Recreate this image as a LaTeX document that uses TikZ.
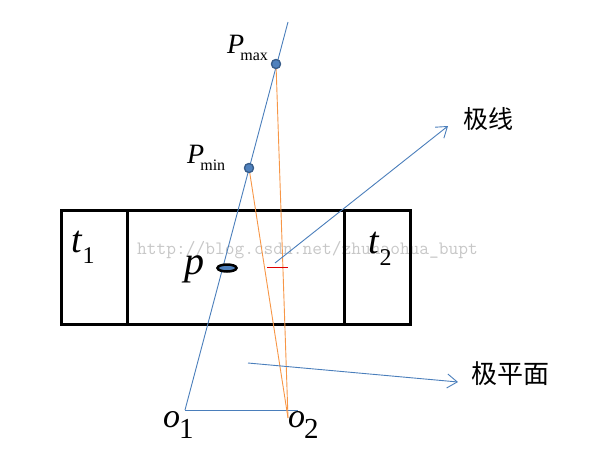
\documentclass[tikz,border=0pt]{standalone}
\usepackage{fontspec}
\setmainfont{Liberation Serif}
\newfontfamily\cjk{Noto Sans CJK SC}
\usetikzlibrary{arrows.meta,shapes.geometric}
\definecolor{lblue}{HTML}{4A7EBB}
\definecolor{dotfill}{HTML}{4F81BD}
\definecolor{dotedge}{HTML}{385D8A}
\definecolor{lorange}{HTML}{F79646}
\definecolor{lred}{HTML}{E00000}
\tikzset{
  blueline/.style={draw=lblue,line width=0.9pt},
  orangeline/.style={draw=lorange,line width=0.9pt},
  barb/.style={-{Straight Barb[length=10pt,width=14pt]}},
  ptdot/.style={circle,fill=dotfill,draw=dotedge,line width=1.2pt,minimum size=9pt,inner sep=0pt},
  lbl/.style={inner sep=0pt,anchor=base west},
  frame/.style={draw=black,line width=3pt},
}
\begin{document}
\begin{tikzpicture}[x=1pt,y=-1pt]
\useasboundingbox (0,0) rectangle (602,474);
% watermark
\node[lbl,text=black!22] (wm) at (137,254) {\ttfamily\fontsize{18.9}{18.9}\selectfont http://blog.csdn.net/zhuhaohua\_bupt};
% box
\draw[frame] (61.5,210.5) rectangle (410.5,324);
\draw[frame] (127.5,210.5) -- (127.5,324);
\draw[frame] (344.5,210.5) -- (344.5,324);
% points
\coordinate (o1) at (185,410);
\coordinate (top) at (288,22);
\coordinate (bend) at (298,410);
\coordinate (o2) at (288,418);
\node[ptdot] (pmax) at (276,64) {};
\node[ptdot] (pmin) at (249,168) {};
% lines
\draw[blueline] (o1) -- (top);
\draw[blueline] (o1) -- (bend);
\draw[orangeline] (pmax) -- (o2);
\draw[orangeline] (pmin) -- (o2);
\node[ptdot] at (pmax) {};
\node[ptdot] at (pmin) {};
% red tick
\coordinate (ra) at (267,267);
\coordinate (rb) at (288,267);
\draw[draw=lred,line width=1pt] (ra) -- (rb);
% arrows
\coordinate (jxs) at (275,263);
\coordinate (jxt) at (448,126);
\draw[blueline,barb] (jxs) -- (jxt);
\coordinate (jps) at (248,363);
\coordinate (jpt) at (458,382);
\draw[blueline,barb] (jps) -- (jpt);
\node[inner sep=0pt] (jx) at (488,119) {\cjk\fontsize{25}{25}\selectfont 极线};
\node[inner sep=0pt] (jp) at (510,374) {\cjk\fontsize{26}{26}\selectfont 极平面};
% p ellipse
\node[ellipse,draw=black,line width=2.5pt,fill=dotfill,minimum width=19pt,minimum height=7pt,inner sep=0pt] (pe) at (227,268) {};
% labels
\node[lbl] (lpmax) at (227,53) {\fontsize{28}{28}\selectfont\textit{P}\kern-4pt\raisebox{-7pt}{\fontsize{16}{16}\selectfont max}};
\node[lbl] (lpmin) at (187,163) {\fontsize{28}{28}\selectfont\textit{P}\kern-4pt\raisebox{-7pt}{\fontsize{16}{16}\selectfont min}};
\node[lbl] (lp) at (184,274.5) {\fontsize{40}{40}\selectfont\textit{p}};
\node[lbl] (lt1) at (71,252) {\fontsize{38}{38}\selectfont\textit{t}\raisebox{-11pt}{\fontsize{24}{24}\selectfont 1}};
\node[lbl] (lt2) at (368,253) {\fontsize{38}{38}\selectfont\textit{t}\raisebox{-12pt}{\fontsize{24}{24}\selectfont 2}};
\node[lbl] (lo1) at (163,427) {\fontsize{34}{34}\selectfont\textit{o}\kern-1pt\raisebox{-11pt}{\fontsize{29}{29}\selectfont 1}};
\node[lbl] (lo2) at (288,427) {\fontsize{34}{34}\selectfont\textit{o}\kern-1pt\raisebox{-11pt}{\fontsize{29}{29}\selectfont 2}};
\end{tikzpicture}
\end{document}
